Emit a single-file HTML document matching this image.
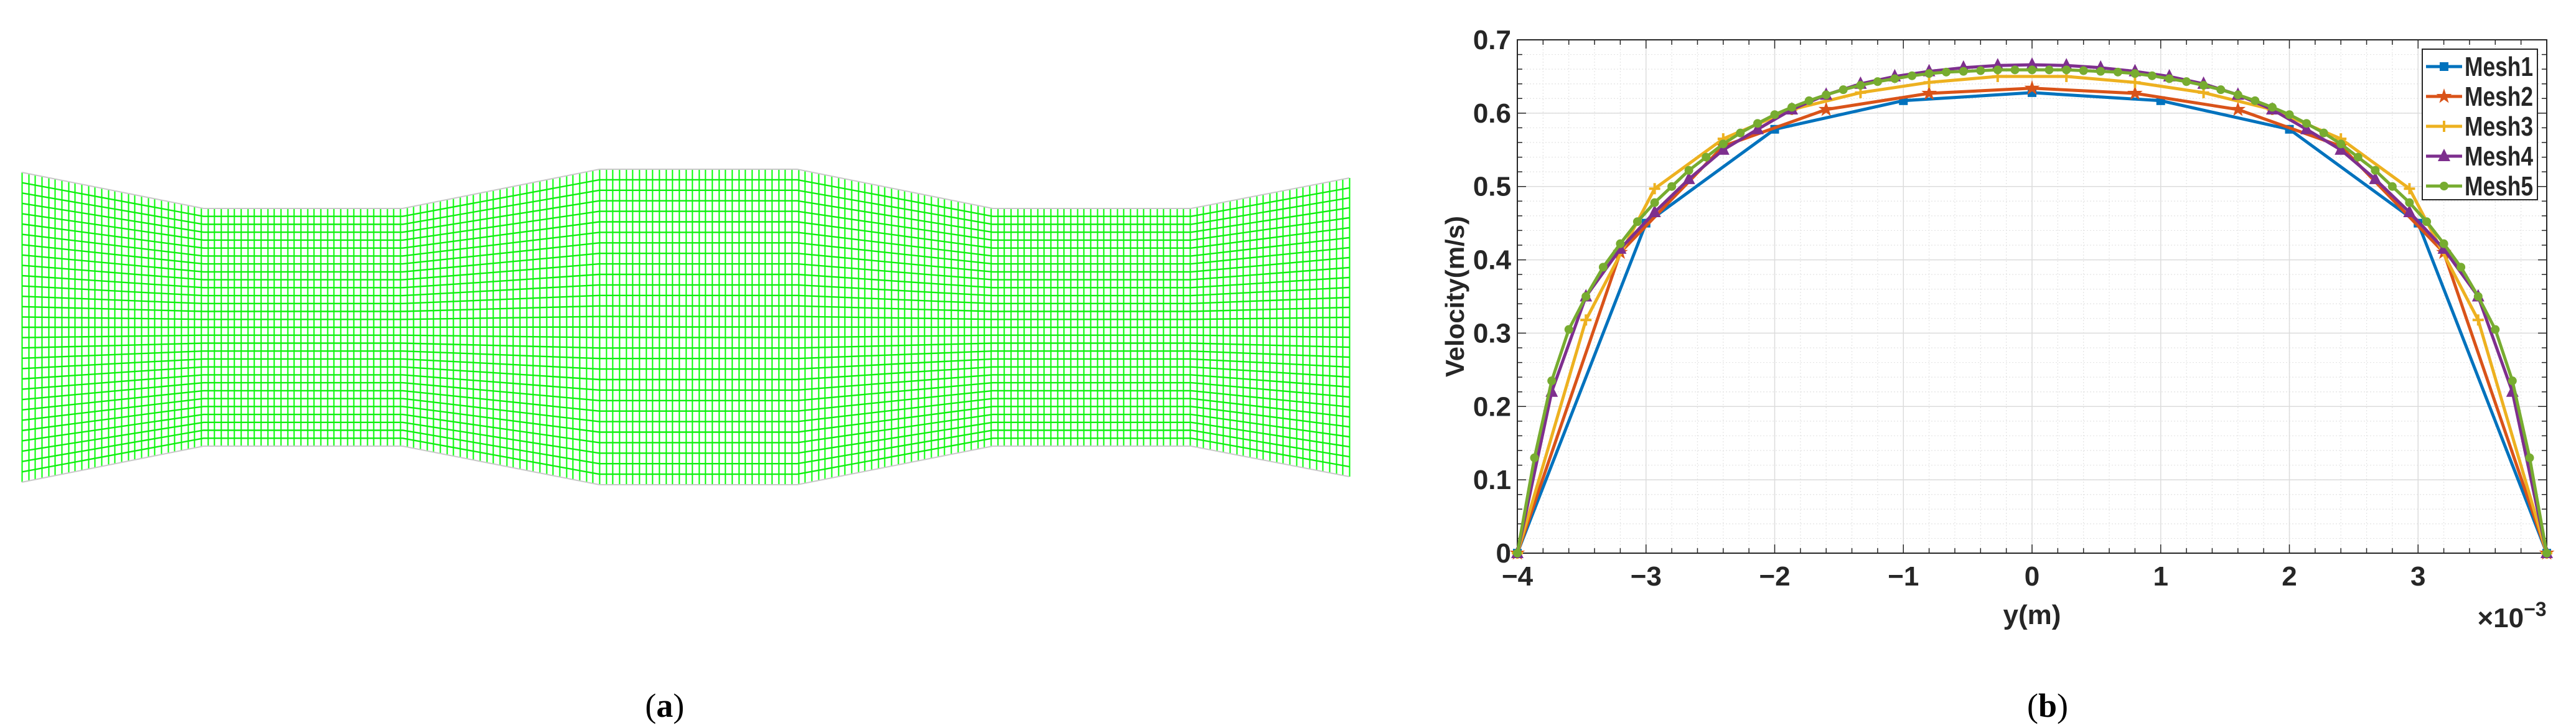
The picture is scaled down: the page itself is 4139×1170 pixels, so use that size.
<!DOCTYPE html>
<html><head><meta charset="utf-8">
<style>
html,body{margin:0;padding:0;background:#fff;}
svg{display:block;}
.tk{font-family:"Liberation Sans Narrow","Liberation Sans",sans-serif;font-weight:bold;font-size:44px;fill:#262626;}
.cap{font-family:"Liberation Serif",serif;font-size:54px;fill:#000;}
</style></head>
<body>
<svg id="root" width="4139" height="1170" viewBox="0 0 4139 1170" xmlns="http://www.w3.org/2000/svg">
<g id="mesh"></g>
<text class="cap" x="1068" y="1152" text-anchor="middle">(<tspan font-weight="bold">a</tspan>)</text>
<g id="chart"></g>
<text class="cap" x="3290" y="1152" text-anchor="middle">(<tspan font-weight="bold">b</tspan>)</text>
</svg>
<script>
// ---- chart data ----
const x1 = [-4,-3,-2,-1,0,1,2,3,4];
const v1 = [0,0.45,0.578,0.617,0.628,0.617,0.578,0.45,0];
const x2 = [-4,-3.2,-2.4,-1.6,-0.8,0,0.8,1.6,2.4,3.2,4];
const v2 = [0,0.41,0.555,0.605,0.627,0.634,0.627,0.605,0.555,0.41,0];
const x3 = [-4,-3.467,-2.933,-2.4,-1.867,-1.333,-0.8,-0.267,0.267,0.8,1.333,1.867,2.4,2.933,3.467,4];
const v3 = [0,0.318,0.497,0.565,0.605,0.628,0.642,0.65,0.65,0.642,0.628,0.605,0.565,0.497,0.318,0];
const x4 = [-4,-3.733,-3.467,-3.2,-2.933,-2.667,-2.4,-2.133,-1.867,-1.6,-1.333,-1.067,-0.8,-0.533,-0.267,0,0.267,0.533,0.8,1.067,1.333,1.6,1.867,2.133,2.4,2.667,2.933,3.2,3.467,3.733,4];
const v4 = [0,0.22,0.35,0.415,0.465,0.51,0.55,0.578,0.605,0.625,0.64,0.65,0.657,0.662,0.665,0.666,0.665,0.662,0.657,0.65,0.64,0.625,0.605,0.578,0.55,0.51,0.465,0.415,0.35,0.22,0];
const x5 = [-4,-3.867,-3.733,-3.6,-3.467,-3.333,-3.2,-3.067,-2.933,-2.8,-2.667,-2.533,-2.4,-2.267,-2.133,-2,-1.867,-1.733,-1.6,-1.467,-1.333,-1.2,-1.067,-0.933,-0.8,-0.667,-0.533,-0.4,-0.267,-0.133,0,0.133,0.267,0.4,0.533,0.667,0.8,0.933,1.067,1.2,1.333,1.467,1.6,1.733,1.867,2,2.133,2.267,2.4,2.533,2.667,2.8,2.933,3.067,3.2,3.333,3.467,3.6,3.733,3.867,4];
const v5 = [0,0.13,0.235,0.305,0.35,0.39,0.422,0.452,0.478,0.5,0.522,0.54,0.558,0.573,0.586,0.598,0.608,0.617,0.625,0.632,0.638,0.643,0.647,0.651,0.654,0.656,0.657,0.658,0.659,0.659,0.659,0.659,0.659,0.658,0.657,0.656,0.654,0.651,0.647,0.643,0.638,0.632,0.625,0.617,0.608,0.598,0.586,0.573,0.558,0.54,0.522,0.5,0.478,0.452,0.422,0.39,0.35,0.305,0.235,0.13,0];
const seriesNames = ["Mesh1","Mesh2","Mesh3","Mesh4","Mesh5"];
const xTicks = [-4,-3,-2,-1,0,1,2,3];
const xTickLabels = ["\u22124","\u22123","\u22122","\u22121","0","1","2","3"];
const yTicks = [0,0.1,0.2,0.3,0.4,0.5,0.6,0.7];
const yTickLabels = ["0","0.1","0.2","0.3","0.4","0.5","0.6","0.7"];

const NS="http://www.w3.org/2000/svg";
function mk(tag,attrs,parent){const e=document.createElementNS(NS,tag);for(const k in attrs)e.setAttribute(k,attrs[k]);parent.appendChild(e);return e;}

// ---- mesh panel ----
(function(){
  const g=document.getElementById('mesh');
  const bx=[35,327,647,963,1281,1595,1914,2168];
  const top=[277,335,335,272,272,335,335,286];
  const bot=[775,717,717,779,779,717,717,766];
  function interp(arr,x){for(let i=0;i<bx.length-1;i++){if(x<=bx[i+1]){const t=(x-bx[i])/(bx[i+1]-bx[i]);return arr[i]+t*(arr[i+1]-arr[i]);}}return arr[arr.length-1];}
  const rows=30;
  let d='';
  for(let r=1;r<rows;r++){
    const t=r/rows;
    d+='M'+bx.map((x,i)=>x+','+(top[i]+t*(bot[i]-top[i])).toFixed(1)).join(' L');
  }
  let dv='';
  const n=200;
  for(let c=0;c<=n;c++){
    const x=Math.round(bx[0]+(bx[7]-bx[0])*c/n)+0.5;
    dv+='M'+x+','+interp(top,x).toFixed(1)+' L'+x+','+interp(bot,x).toFixed(1);
  }
  const vl=mk('path',{d:dv,stroke:'#00ff00','stroke-width':1.6,fill:'none','shape-rendering':'crispEdges'},g);
  
  
  const hl=mk('path',{d:d,stroke:'#11ee11','stroke-width':2.4,fill:'none'},g);
  
  
  const bd='M'+bx.map((x,i)=>x+','+top[i]).join(' L')+' M'+bx.map((x,i)=>x+','+bot[i]).join(' L');
  const b=mk('path',{d:bd,stroke:'#c8c8c8','stroke-width':2,fill:'none'},g);
  
  
})();

// ---- chart ----
(function(){
  const g=document.getElementById('chart');
  const L=2438,R=4092,T=64,B=889;
  const sx=v=>L+(v+4)/8*(R-L);
  const sy=v=>B-v/0.7*(B-T);
  let dm='';
  for(let v=-4;v<=4.001;v+=0.2){const x=sx(v);dm+=`M${x},${T} L${x},${B}`;}
  for(let v=0;v<=0.7001;v+=0.02){const y=sy(v);dm+=`M${L},${y} L${R},${y}`;}
  const mg=mk('path',{d:dm,stroke:'#e4e4e4','stroke-width':1.2,'stroke-dasharray':'2,3',fill:'none'},g);
  
  
  let dg='';
  xTicks.forEach(v=>{const x=sx(v);dg+=`M${x},${T} L${x},${B}`;});
  yTicks.forEach(v=>{const y=sy(v);dg+=`M${L},${y} L${R},${y}`;});
  const gg=mk('path',{d:dg,stroke:'#dcdcdc','stroke-width':1.5,fill:'none'},g);
  
  
  let dt='';
  for(let v=-4;v<=4.001;v+=0.2){const x=sx(v);const len=(Math.abs(v-Math.round(v))<0.01)?14:8;dt+=`M${x},${B} L${x},${B-len} M${x},${T} L${x},${T+len}`;}
  for(let v=0;v<=0.7001;v+=0.02){const y=sy(v);const len=(Math.abs(v*10-Math.round(v*10))<0.01)?14:8;dt+=`M${L},${y} L${L+len},${y} M${R},${y} L${R-len},${y}`;}
  const tk=mk('path',{d:dt,stroke:'#262626','stroke-width':1.5,fill:'none'},g);
  
  
  const ax=mk('rect',{x:L,y:T,width:R-L,height:B-T,fill:'none',stroke:'#262626','stroke-width':2},g);
  
  
  xTicks.forEach((v,i)=>{
    const t=mk('text',{x:sx(v),y:B+52,'text-anchor':'middle',class:'tk'},g);t.textContent=xTickLabels[i];
    
    
  });
  yTicks.forEach((v,i)=>{
    const t=mk('text',{x:L-10,y:sy(v)+15,'text-anchor':'end',class:'tk'},g);t.textContent=yTickLabels[i];
    
    
  });
  const xt=mk('text',{x:(L+R)/2,y:1003,'text-anchor':'middle',class:'tk'},g);xt.textContent='y(m)';
  
  
  const ex=mk('text',{x:4036,y:1008,'text-anchor':'middle',class:'tk','font-weight':'normal'},g);
  ex.innerHTML='\u00d710<tspan dy="-18" font-size="32">\u22123</tspan>';
  
  
  const yt=mk('text',{x:0,y:0,'text-anchor':'middle','font-family':'"Liberation Sans",sans-serif','font-weight':'bold','font-size':'42',fill:'#262626',transform:`translate(2352,${(T+B)/2}) rotate(-90)`},g);
  yt.textContent='Velocity(m/s)';
  
  

  const colors=['#0072bd','#d95319','#edb120','#7e2f8e','#77ac30'];
  const xs=[x1,x2,x3,x4,x5], vs=[v1,v2,v3,v4,v5];
  function marker(type,x,y,c,parent){
    let e;
    if(type===0){e=mk('rect',{x:x-7,y:y-7,width:14,height:14,fill:c},parent);}
    else if(type===1){let p='';for(let k=0;k<10;k++){const r=k%2?5:13;const a=-Math.PI/2+k*Math.PI/5;p+=(x+r*Math.cos(a)).toFixed(1)+','+(y+r*Math.sin(a)).toFixed(1)+' ';}e=mk('polygon',{points:p,fill:c},parent);}
    else if(type===2){e=mk('path',{d:`M${x-9},${y} L${x+9},${y} M${x},${y-9} L${x},${y+9}`,stroke:c,'stroke-width':4},parent);}
    else if(type===3){e=mk('polygon',{points:`${x},${y-12} ${x-10},${y+8} ${x+10},${y+8}`,fill:c},parent);}
    else {e=mk('circle',{cx:x,cy:y,r:7,fill:c},parent);}
    
    
  }
  for(let s=0;s<5;s++){
    const sg=mk('g',{},g);
    
    
    const pts=xs[s].map((xv,i)=>sx(xv).toFixed(1)+','+sy(vs[s][i]).toFixed(1)).join(' ');
    const pl=mk('polyline',{points:pts,fill:'none',stroke:colors[s],'stroke-width':5,'stroke-linejoin':'round'},sg);
    
    
    xs[s].forEach((xv,i)=>marker(s,sx(xv),sy(vs[s][i]),colors[s],sg));
  }
  const lg=mk('g',{},g);
  
  
  mk('rect',{x:3892,y:79,width:185,height:242,fill:'#fff',stroke:'#262626','stroke-width':2},lg);
  seriesNames.forEach((n,i)=>{
    const y=107+i*48;
    const eg=mk('g',{},lg);
    
    
    mk('line',{x1:3898,y1:y,x2:3956,y2:y,stroke:colors[i],'stroke-width':5},eg);
    marker(i,3927,y,colors[i],eg);
    const t=mk('text',{x:3960,y:y+15,class:'tk','font-size':'42',textLength:'110',lengthAdjust:'spacingAndGlyphs'},eg);t.textContent=n;
  });
})();
</script>
</body></html>
